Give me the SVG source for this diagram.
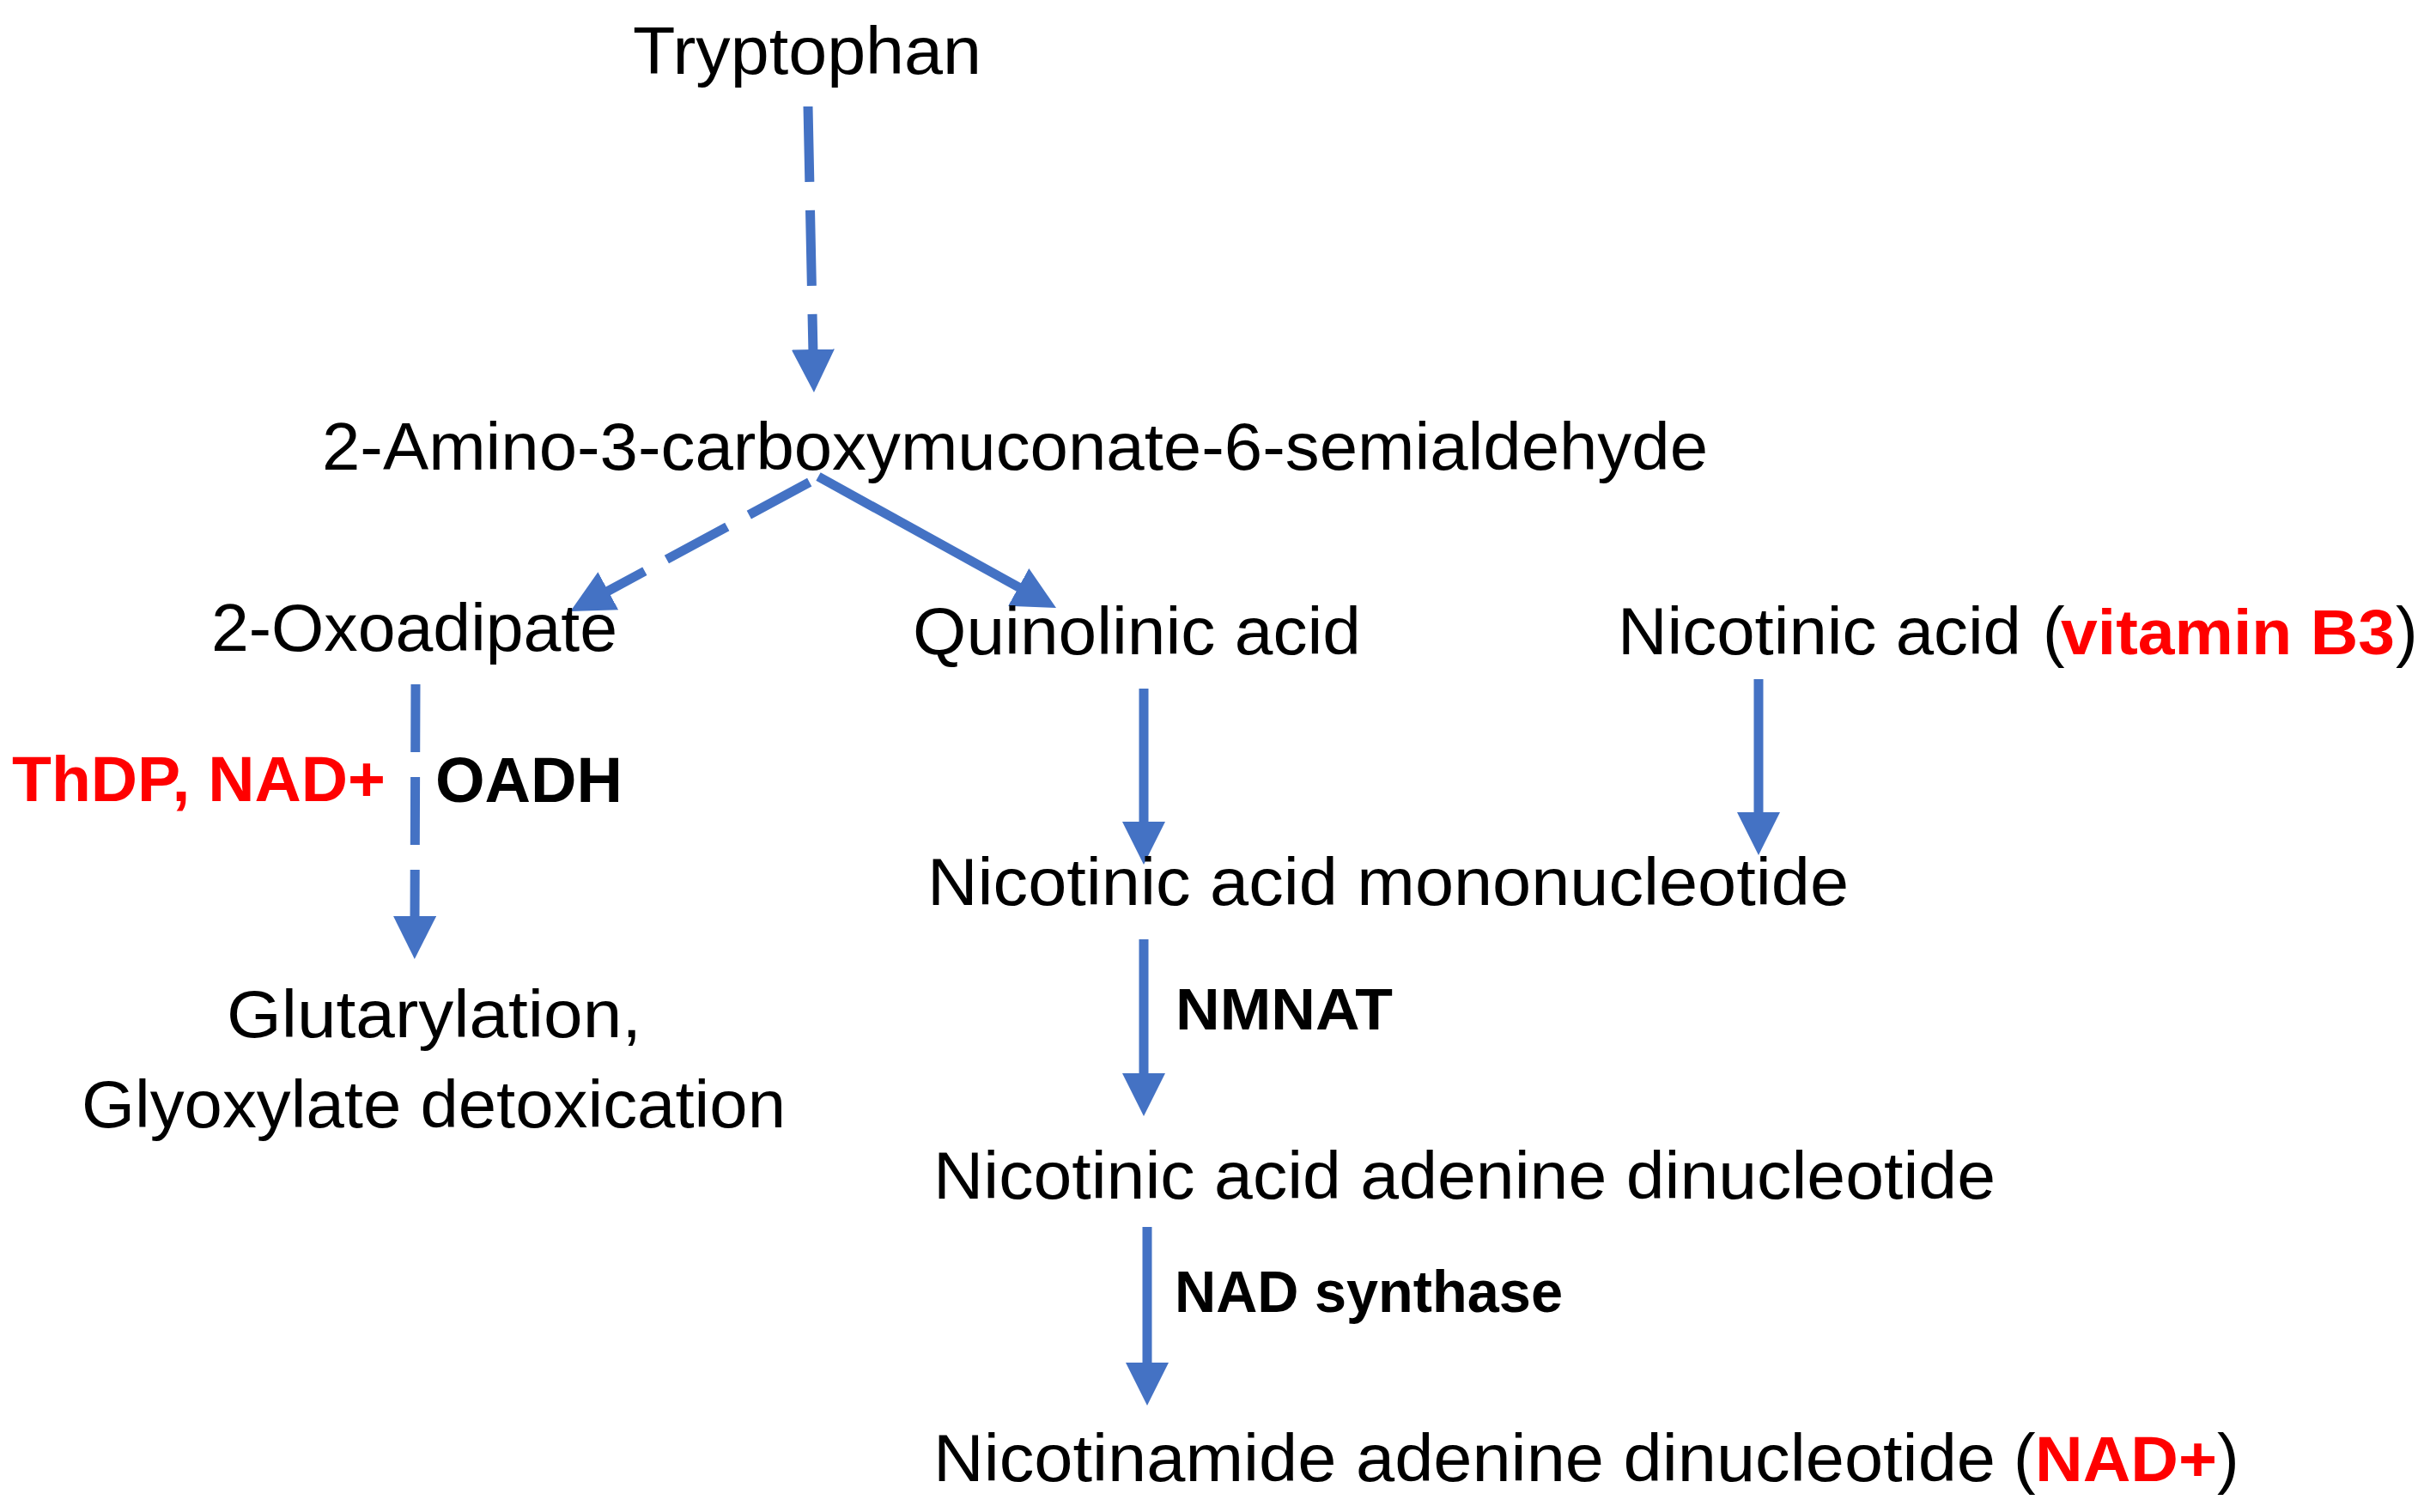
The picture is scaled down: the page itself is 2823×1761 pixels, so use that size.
<svg xmlns="http://www.w3.org/2000/svg" width="2823" height="1761" viewBox="0 0 2823 1761">
  <style>
    text { font-family: "Liberation Sans", Arial, sans-serif; fill: #000; }
    .c { font-size: 77px; }
    .b { font-size: 74px; font-weight: bold; }
    .bs { font-size: 68px; font-weight: bold; }
    .red { fill: #FF0000; }
    .conn line { stroke: #4472C4; stroke-width: 11; fill: none; marker-end: url(#ah); }
  </style>
  <defs>
    <marker id="ah" markerUnits="userSpaceOnUse" viewBox="0 0 50 50" markerWidth="50" markerHeight="50" refX="5" refY="25" orient="auto">
      <path d="M0,0 L50,25 L0,50 Z" fill="#4472C4"/>
    </marker>
  </defs>
  <rect width="2823" height="1761" fill="#FFFFFF"/>

  <g id="connectors" class="conn">
    <line x1="941" y1="124" x2="947" y2="412" stroke-dasharray="88 33"/>
    <line x1="942.7" y1="561.7" x2="703.9" y2="690.6" stroke-dasharray="80 29"/>
    <line x1="953" y1="555" x2="1190.6" y2="686.3"/>
    <line x1="484" y1="797" x2="483" y2="1072" stroke-dasharray="79 29"/>
    <line x1="1332" y1="802" x2="1332" y2="962"/>
    <line x1="2048" y1="791" x2="2048" y2="951"/>
    <line x1="1332" y1="1094" x2="1332" y2="1255"/>
    <line x1="1336" y1="1429" x2="1336" y2="1592"/>
  </g>

  <g id="tryptophan">
    <text class="c" x="737" y="86" textLength="406" lengthAdjust="spacingAndGlyphs">Tryptophan</text>
  </g>
  <g id="acms">
    <text class="c" x="375" y="547" textLength="1614" lengthAdjust="spacingAndGlyphs">2-Amino-3-carboxymuconate-6-semialdehyde</text>
  </g>
  <g id="oxoadipate">
    <text class="c" x="246" y="758" textLength="473" lengthAdjust="spacingAndGlyphs">2-Oxoadipate</text>
  </g>
  <g id="quinolinic">
    <text class="c" x="1063" y="762" textLength="522" lengthAdjust="spacingAndGlyphs">Quinolinic acid</text>
  </g>
  <g id="nicotinic-acid">
    <text class="c" x="1884" y="762" textLength="470" lengthAdjust="spacingAndGlyphs">Nicotinic acid</text>
    <text class="c" x="2379" y="762">(</text>
    <text class="b red" x="2400" y="762" textLength="389" lengthAdjust="spacingAndGlyphs">vitamin B3</text>
    <text class="c" x="2790" y="762">)</text>
  </g>
  <g id="label-cofactors">
    <text class="b red" x="14" y="933" textLength="435" lengthAdjust="spacingAndGlyphs">ThDP, NAD+</text>
  </g>
  <g id="label-oadh">
    <text class="b" x="507" y="934" textLength="218" lengthAdjust="spacingAndGlyphs">OADH</text>
  </g>
  <g id="namn">
    <text class="c" x="1080" y="1054" textLength="1073" lengthAdjust="spacingAndGlyphs">Nicotinic acid mononucleotide</text>
  </g>
  <g id="glutarylation">
    <text class="c" x="264" y="1208" textLength="483" lengthAdjust="spacingAndGlyphs">Glutarylation,</text>
    <text class="c" x="95" y="1313" textLength="820" lengthAdjust="spacingAndGlyphs">Glyoxylate detoxication</text>
  </g>
  <g id="label-nmnat">
    <text class="bs" x="1369" y="1199" textLength="253" lengthAdjust="spacingAndGlyphs">NMNAT</text>
  </g>
  <g id="naad">
    <text class="c" x="1087" y="1396" textLength="1237" lengthAdjust="spacingAndGlyphs">Nicotinic acid adenine dinucleotide</text>
  </g>
  <g id="label-nad-synthase">
    <text class="bs" x="1368" y="1528" textLength="452" lengthAdjust="spacingAndGlyphs">NAD synthase</text>
  </g>
  <g id="nad">
    <text class="c" x="1087" y="1725" textLength="1237" lengthAdjust="spacingAndGlyphs">Nicotinamide adenine dinucleotide</text>
    <text class="c" x="2345" y="1725">(</text>
    <text class="b red" x="2370" y="1725" textLength="212" lengthAdjust="spacingAndGlyphs">NAD+</text>
    <text class="c" x="2582" y="1725">)</text>
  </g>
</svg>
